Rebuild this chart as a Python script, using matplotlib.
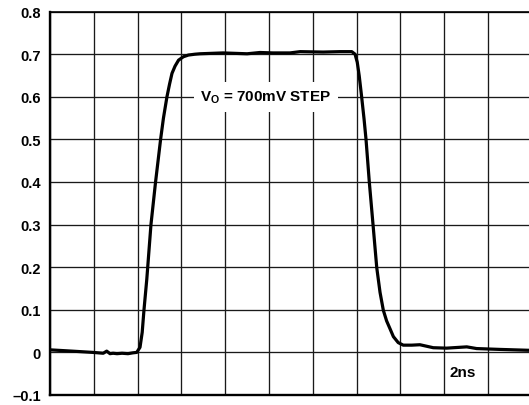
import matplotlib
matplotlib.use("Agg")
import matplotlib.pyplot as plt

plt.rcParams['font.family'] = ['Liberation Sans', 'DejaVu Sans']
plt.rcParams['mathtext.fontset'] = 'custom'
plt.rcParams['mathtext.rm'] = 'Liberation Sans:bold'
plt.rcParams['mathtext.bf'] = 'Liberation Sans:bold'
plt.rcParams['mathtext.it'] = 'Liberation Sans:bold'

# Waveform (time in ns, 2 ns/div; voltage in V)
time_ns = [0.00, 1.00, 1.96, 2.43, 2.59, 2.74, 2.88, 3.06, 3.29, 3.56, 3.79,
           3.96, 4.11, 4.21, 4.29, 4.42, 4.61, 4.82, 5.05, 5.18, 5.34, 5.46, 5.57,
           5.71, 5.87, 6.09, 6.32, 6.62, 6.85, 7.90, 9.00, 9.59, 10.18, 10.96,
           11.42, 12.47, 13.24, 13.78, 13.93, 14.03, 14.12, 14.23, 14.34, 14.43,
           14.58, 14.75, 14.92, 15.07, 15.22, 15.37, 15.53, 15.68, 15.90, 16.13,
           16.52, 16.89, 17.50, 18.11, 19.03, 19.48, 20.55, 21.83, 22.00]
volts = [0.006, 0.003, 0.000, -0.002, 0.003, -0.003, -0.002, -0.003, -0.002, -0.003,
         -0.001, 0.000, 0.012, 0.047, 0.099, 0.172, 0.300, 0.400, 0.500, 0.550, 0.600,
         0.630, 0.655, 0.672, 0.686, 0.694, 0.698, 0.700, 0.701, 0.703, 0.701, 0.704,
         0.703, 0.703, 0.706, 0.705, 0.706, 0.706, 0.700, 0.681, 0.649, 0.600, 0.548,
         0.500, 0.400, 0.300, 0.199, 0.141, 0.099, 0.074, 0.055, 0.037, 0.023, 0.017,
         0.017, 0.018, 0.011, 0.010, 0.013, 0.009, 0.007, 0.005, 0.005]

y_ticks = [-0.1, 0, 0.1, 0.2, 0.3, 0.4, 0.5, 0.6, 0.7, 0.8]
y_labels = ['\u20130.1', '0', '0.1', '0.2', '0.3', '0.4', '0.5', '0.6', '0.7', '0.8']
x_grid = list(range(0, 23, 2))

W, H = 529, 406
fig = plt.figure(figsize=(W / 100, H / 100), dpi=100)
left, right = 50 / W, 531.8 / W
bottom, top = (H - 396) / H, (H - 12.6) / H
ax = fig.add_axes([left, bottom, right - left, top - bottom])

ax.set_xlim(0, 22)
ax.set_ylim(-0.1, 0.8)
ax.set_xticks(x_grid)
ax.set_xticklabels([])
ax.set_yticks(y_ticks)
ax.set_yticklabels(y_labels, fontweight='bold', fontsize=10.5)
ax.tick_params(axis='both', length=0)
ax.tick_params(axis='y', pad=6.5)
ax.grid(True, color='#1a1a1a', linewidth=0.95)
ax.set_axisbelow(True)

for s in ['left', 'bottom']:
    ax.spines[s].set_linewidth(1.7)
ax.spines['top'].set_linewidth(1.2)
ax.spines['right'].set_visible(False)

ax.plot(time_ns, volts, color='black', linewidth=2.3, solid_capstyle='round',
        solid_joinstyle='round', zorder=3)

ax.text(9.86, 0.60, r'$\mathbf{V_O}$ = 700mV STEP', fontsize=11, fontweight='bold',
        ha='center', va='center', zorder=4,
        bbox=dict(boxstyle='square,pad=0.45', facecolor='white', edgecolor='none'))
ax.text(18.86, -0.045, '2ns', fontsize=11, fontweight='bold', ha='center', va='center', zorder=4)

fig.savefig('out.png', dpi=100)
